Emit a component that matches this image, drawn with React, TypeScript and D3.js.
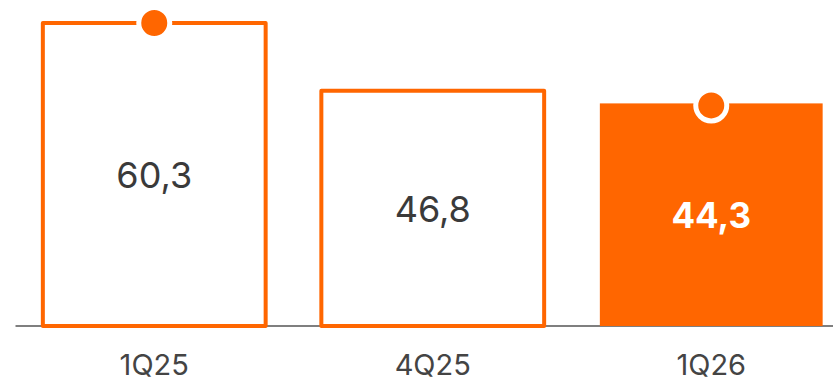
import React from "react";
import * as d3 from "d3";

const categories = ["1Q25", "4Q25", "1Q26"];
const values = [60.3, 46.8, 44.3];
const valueLabels = ["60,3", "46,8", "44,3"];
const filled = [false, false, true];
const markers = [true, false, true];

const W = 833;
const H = 383;
const ORANGE = "#FF6600";
const TEXT = "#3a3a3a";

export default function App() {
  const x = d3
    .scaleBand<string>()
    .domain(categories)
    .range([15, 850.5])
    .paddingInner(0.2)
    .paddingOuter(0.1);
  const baseY = 326;
  const y = d3.scaleLinear().domain([0, 60.3]).range([baseY, 23]);

  return (
    <svg
      width={W}
      height={H}
      style={{ position: "absolute", left: 0, top: 0, display: "block" }}
      fontFamily="Inter, 'Noto Sans', sans-serif"
    >
      <line x1={15.5} x2={833} y1={baseY} y2={baseY} stroke="#555" strokeWidth={1.5} />
      {categories.map((c, i) => {
        const x0 = x(c)!;
        const bw = x.bandwidth();
        const top = y(values[i]);
        const cx = x0 + bw / 2;
        const mid = (top + baseY) / 2;
        return (
          <g key={c}>
            <rect
              x={x0}
              y={top}
              width={bw}
              height={baseY - top}
              fill={filled[i] ? ORANGE : "#fff"}
              stroke={filled[i] ? "none" : ORANGE}
              strokeWidth={4}
              strokeLinejoin="round"
            />
            {markers[i] && (
              <circle
                cx={cx}
                cy={filled[i] ? top + 2 : top}
                r={15.5}
                fill={ORANGE}
                stroke="#fff"
                strokeWidth={5}
              />
            )}
            <text
              x={cx}
              y={mid}
              dy="0.37em"
              textAnchor="middle"
              fontSize={filled[i] ? 35 : 36}
              fontWeight={filled[i] ? 700 : 400}
              fill={filled[i] ? "#fff" : TEXT}
            >
              {valueLabels[i]}
            </text>
            <text
              x={cx}
              y={374.5}
              textAnchor="middle"
              fontSize={29}
              fill="#444"
            >
              {c}
            </text>
          </g>
        );
      })}
    </svg>
  );
}
